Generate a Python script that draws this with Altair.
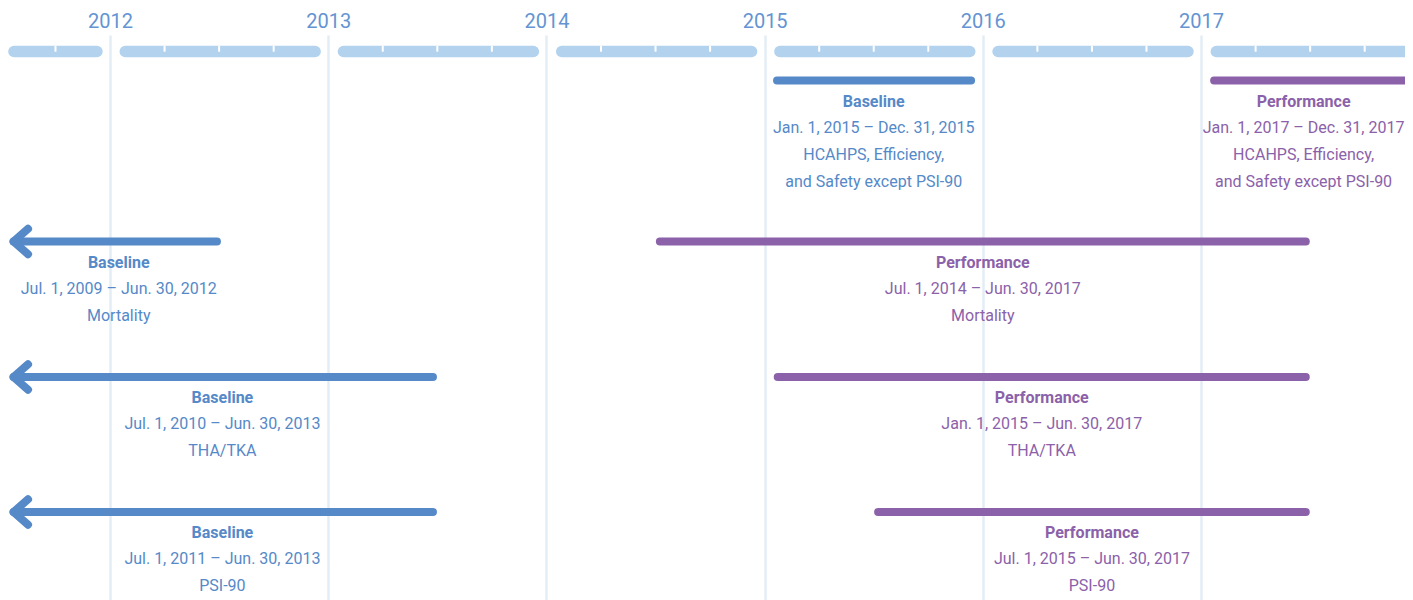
import altair as alt
import pandas as pd

# ---- data -------------------------------------------------------------
years = [2012, 2013, 2014, 2015, 2016, 2017]

# light timeline segments (fractional years)
seg_start = [2011.56, 2012.07, 2013.07, 2014.07, 2015.07, 2016.07, 2017.07]
seg_end = [2011.94, 2012.94, 2013.94, 2014.94, 2015.94, 2016.94, 2017.93]
quarter_ticks = [2011.75,
                 2012.25, 2012.5, 2012.75,
                 2013.25, 2013.5, 2013.75,
                 2014.25, 2014.5, 2014.75,
                 2015.25, 2015.5, 2015.75,
                 2016.25, 2016.5, 2016.75,
                 2017.25, 2017.5, 2017.75]

# periods
lane = [1, 1, 2, 2, 3, 3, 4, 4]
kind = ["Baseline", "Performance"] * 4
p_start = [2015.057, 2017.06, 2011.558, 2014.52, 2011.558, 2015.06, 2011.558, 2015.52]
p_end = [2015.946, 2017.94, 2012.49, 2017.48, 2013.48, 2017.48, 2013.48, 2017.48]
has_arrow = [False, False, True, False, True, False, True, False]
label_x = [2015.5, 2017.47, 2012.04, 2016.0, 2012.515, 2016.27, 2012.515, 2016.5]
date_text = [
    "Jan. 1, 2015 – Dec. 31, 2015",
    "Jan. 1, 2017 – Dec. 31, 2017",
    "Jul. 1, 2009 – Jun. 30, 2012",
    "Jul. 1, 2014 – Jun. 30, 2017",
    "Jul. 1, 2010 – Jun. 30, 2013",
    "Jan. 1, 2015 – Jun. 30, 2017",
    "Jul. 1, 2011 – Jun. 30, 2013",
    "Jul. 1, 2015 – Jun. 30, 2017",
]
measure1 = ["HCAHPS, Efficiency,", "HCAHPS, Efficiency,", "Mortality", "Mortality",
            "THA/TKA", "THA/TKA", "PSI-90", "PSI-90"]
measure2 = ["and Safety except PSI-90", "and Safety except PSI-90", "", "", "", "", "", ""]

# ---- tables -----------------------------------------------------------
segs = pd.DataFrame({"start": seg_start, "end": seg_end, "lane": 0})
ticks = pd.DataFrame({"t": quarter_ticks, "lane": 0})
periods = pd.DataFrame({
    "lane": lane, "kind": kind, "start": p_start, "end": p_end,
    "arrow": has_arrow, "label_x": label_x, "date": date_text,
    "m1": measure1, "m2": measure2,
})
arrows = periods[periods["arrow"]]

# ---- styling ----------------------------------------------------------
FONT = "Roboto"
BLUE = "#5589c8"
PURPLE = "#8b61a9"
LIGHT = "#b3d2ee"
GRID = "#e3edf5"

xscale = alt.Scale(domain=[2011.5325, 2017.9347], nice=False, zero=False)
xaxis = alt.Axis(orient="top", values=years, format="d", title=None,
                 domain=False, ticks=False, tickSize=0, labelPadding=4,
                 labelFont=FONT, labelFontSize=20, labelColor="#6494d2",
                 grid=True, gridColor=GRID, gridWidth=2.5)
yscale = alt.Scale(domain=[-0.5, 0, 1, 2, 3, 4, 5],
                   range=[0, 16.5, 45.5, 206.5, 342, 477, 565],
                   nice=False, zero=False)
color = alt.Color("kind:N", scale=alt.Scale(domain=["Baseline", "Performance"],
                                            range=[BLUE, PURPLE]), legend=None)


def X(field):
    return alt.X(field, type="quantitative", scale=xscale, axis=xaxis)


def Y():
    return alt.Y("lane", type="quantitative", scale=yscale, axis=None)


topbar = alt.Chart(segs).mark_rule(strokeWidth=11.5, strokeCap="round", color=LIGHT).encode(
    x=X("start"), x2="end", y=Y())

notches = alt.Chart(ticks).mark_tick(orient="vertical", size=6, thickness=2,
                                     color="white", opacity=1, yOffset=-2.8).encode(
    x=X("t"), y=Y())

bars = alt.Chart(periods).mark_rule(strokeWidth=8, strokeCap="round").encode(
    x=X("start"), x2="end", y=Y(), color=color)

heads = alt.Chart(arrows).mark_point(shape="M1.14,-1L0,0L1.14,1", filled=False,
                                     strokeWidth=8, strokeCap="round", strokeJoin="round",
                                     size=645, opacity=1).encode(
    x=X("start"), y=Y(), color=color)


def txt(field, dy, weight="normal"):
    return alt.Chart(periods).mark_text(font=FONT, fontSize=16, fontWeight=weight,
                                        dy=dy, align="center", baseline="middle").encode(
        x=X("label_x"), y=Y(), text=field, color=color)


chart = alt.layer(
    topbar, notches, bars, heads,
    txt("kind:N", 21, "bold"),
    txt("date:N", 47),
    txt("m1:N", 74),
    txt("m2:N", 101),
).properties(
    width=1397, height=565,
    autosize=alt.AutoSizeParams(type="none"),
    padding={"left": 0, "top": 27, "right": 0, "bottom": 0},
).configure_view(stroke=None)

chart.save("out.html", embed_options={"renderer": "svg", "actions": False})
